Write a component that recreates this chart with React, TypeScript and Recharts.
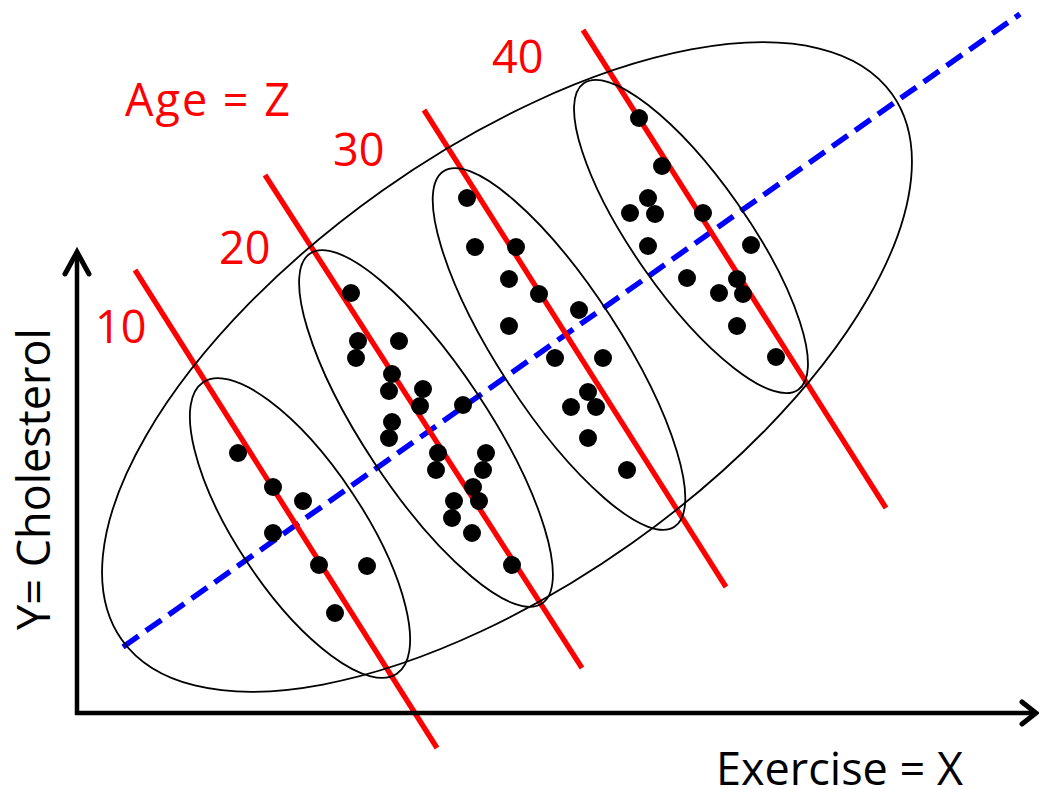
import React from 'react';
import {
  ScatterChart,
  Scatter,
  XAxis,
  YAxis,
  ReferenceLine,
  ReferenceDot,
} from 'recharts';

const CHART_W = 1039;
const CHART_H = 789;
const X_DOMAIN: [number, number] = [-7.7, 96.2];
const Y_DOMAIN: [number, number] = [-7.6, 71.3];
// both axes share the same pixels-per-unit so ellipse radii stay in data units
const PX_PER_UNIT = CHART_W / (X_DOMAIN[1] - X_DOMAIN[0]);

const FONT = '"Open Sans", "DejaVu Sans", sans-serif';
const RED = '#ff0000';
const BLUE = '#0000ff';

// exercise (x) vs cholesterol (y), one array per age group
const age10 = [
  { x: 16.1, y: 26.0 }, { x: 19.6, y: 22.6 }, { x: 22.6, y: 21.2 },
  { x: 19.6, y: 18.0 }, { x: 24.2, y: 14.8 }, { x: 29.0, y: 14.7 },
  { x: 25.8, y: 10.0 },
];

const age20 = [
  { x: 27.4, y: 42.0 }, { x: 28.1, y: 37.2 }, { x: 27.9, y: 35.5 },
  { x: 32.2, y: 37.2 }, { x: 31.5, y: 33.9 }, { x: 31.2, y: 32.2 },
  { x: 34.6, y: 32.4 }, { x: 34.3, y: 30.7 }, { x: 38.6, y: 30.8 },
  { x: 31.5, y: 29.1 }, { x: 31.2, y: 27.5 }, { x: 36.1, y: 26.0 },
  { x: 35.9, y: 24.3 }, { x: 40.9, y: 26.0 }, { x: 40.6, y: 24.3 },
  { x: 39.6, y: 22.6 }, { x: 40.2, y: 21.2 }, { x: 37.7, y: 21.2 },
  { x: 37.5, y: 19.5 }, { x: 39.5, y: 18.0 }, { x: 43.5, y: 14.8 },
];

const age30 = [
  { x: 39.0, y: 51.5 }, { x: 39.8, y: 46.6 }, { x: 43.9, y: 46.6 },
  { x: 43.2, y: 43.4 }, { x: 46.2, y: 41.9 }, { x: 50.2, y: 40.3 },
  { x: 43.2, y: 38.7 }, { x: 47.8, y: 35.5 }, { x: 52.6, y: 35.5 },
  { x: 51.1, y: 32.1 }, { x: 49.4, y: 30.6 }, { x: 51.9, y: 30.6 },
  { x: 51.1, y: 27.5 }, { x: 55.0, y: 24.3 },
];

const age40 = [
  { x: 56.2, y: 59.5 }, { x: 58.5, y: 54.7 }, { x: 57.1, y: 51.5 },
  { x: 55.3, y: 50.0 }, { x: 57.8, y: 49.9 }, { x: 62.6, y: 50.0 },
  { x: 57.1, y: 46.7 }, { x: 67.4, y: 46.8 }, { x: 61.0, y: 43.5 },
  { x: 66.0, y: 43.4 }, { x: 64.2, y: 42.0 }, { x: 66.6, y: 41.9 },
  { x: 66.0, y: 38.7 }, { x: 69.9, y: 35.6 },
];

// group outlines: centre, semi-axes (data units) and tilt (degrees, clockwise)
const groupOutlines = [
  { x: 22.3, y: 18.5, rx: 17.5, ry: 6.3, tilt: 56.4 },
  { x: 34.9, y: 28.45, rx: 21.0, ry: 6.2, tilt: 56.5 },
  { x: 48.2, y: 36.4, rx: 21.2, ry: 6.1, tilt: 57 },
  { x: 61.4, y: 47.65, rx: 18.7, ry: 5.7, tilt: 55 },
];
const populationOutline = [{ x: 43.0, y: 34.6, rx: 47.2, ry: 21.6, tilt: -35.3 }];

// within-age trend lines
const ageLines = [
  { age: '10', from: { x: 5.8, y: 44.3 }, to: { x: 36.0, y: -3.5 } },
  { age: '20', from: { x: 18.8, y: 53.8 }, to: { x: 50.5, y: 4.5 } },
  { age: '30', from: { x: 34.7, y: 60.3 }, to: { x: 64.9, y: 12.6 } },
  { age: '40', from: { x: 50.6, y: 68.3 }, to: { x: 80.9, y: 20.5 } },
];
const ageLabelPos = [
  { x: 1.8, y: 37.0 },
  { x: 14.2, y: 44.9 },
  { x: 25.6, y: 54.7 },
  { x: 41.5, y: 64.0 },
];

// pooled trend ignoring age
const overallTrend = { from: { x: 4.6, y: 6.6 }, to: { x: 94.3, y: 69.9 } };

const xArrow = { from: { x: -0.2, y: 0 }, to: { x: 95.9, y: 0 } };
const yArrow = { from: { x: 0, y: -0.2 }, to: { x: 0, y: 46.1 } };

const Dot = (p: any) => <circle cx={p.cx} cy={p.cy} r={9} fill="#000" />;

const Outline = (p: any) => {
  const { rx, ry, tilt } = p.payload;
  return (
    <ellipse
      cx={p.cx}
      cy={p.cy}
      rx={rx * PX_PER_UNIT}
      ry={ry * PX_PER_UNIT}
      transform={`rotate(${tilt} ${p.cx} ${p.cy})`}
      fill="none"
      stroke="#000"
      strokeWidth={1.8}
    />
  );
};

const arrowShape = (back: number, spread: number) => (p: any) => {
  const { x1, y1, x2, y2 } = p;
  const len = Math.hypot(x2 - x1, y2 - y1) || 1;
  const ux = (x2 - x1) / len;
  const uy = (y2 - y1) / len;
  const bx = x2 - ux * back;
  const by = y2 - uy * back;
  const nx = -uy;
  const ny = ux;
  return (
    <g>
      <line x1={x1} y1={y1} x2={x2 - ux * 2} y2={y2 - uy * 2} stroke="#000" strokeWidth={4.5} />
      <polyline
        points={`${bx + nx * spread},${by + ny * spread} ${x2},${y2} ${bx - nx * spread},${by - ny * spread}`}
        fill="none"
        stroke="#000"
        strokeWidth={5}
        strokeLinecap="round"
        strokeLinejoin="miter"
      />
    </g>
  );
};

const textShape = (text: string, color: string, rotate = false, anchor = 'start', spacing = 0) => (p: any) => (
  <text
    x={p.cx}
    y={p.cy}
    fill={color}
    fontFamily={FONT}
    fontSize={45}
    letterSpacing={spacing}
    textAnchor={anchor}
    transform={rotate ? `rotate(-90 ${p.cx} ${p.cy})` : undefined}
  >
    {text}
  </text>
);

export default function App() {
  return (
    <div style={{ position: 'absolute', left: 0, top: 0, background: '#fff' }}>
      <ScatterChart width={CHART_W} height={CHART_H} margin={{ top: 0, right: 0, bottom: 0, left: 0 }}>
        <XAxis type="number" dataKey="x" domain={X_DOMAIN} allowDataOverflow hide />
        <YAxis type="number" dataKey="y" domain={Y_DOMAIN} allowDataOverflow hide />

        <Scatter data={populationOutline} shape={Outline} isAnimationActive={false} />
        <Scatter data={groupOutlines} shape={Outline} isAnimationActive={false} />

        <Scatter data={age10} shape={Dot} isAnimationActive={false} />
        <Scatter data={age20} shape={Dot} isAnimationActive={false} />
        <Scatter data={age30} shape={Dot} isAnimationActive={false} />
        <Scatter data={age40} shape={Dot} isAnimationActive={false} />

        <ReferenceLine
          segment={[overallTrend.from, overallTrend.to]}
          stroke={BLUE}
          strokeWidth={5.5}
          strokeDasharray="19 9"
          ifOverflow="visible"
        />
        {ageLines.map((l) => (
          <ReferenceLine
            key={l.age}
            segment={[l.from, l.to]}
            stroke={RED}
            strokeWidth={5.3}
            ifOverflow="visible"
          />
        ))}

        <ReferenceLine segment={[xArrow.from, xArrow.to]} shape={arrowShape(14, 11)} ifOverflow="visible" />
        <ReferenceLine segment={[yArrow.from, yArrow.to]} shape={arrowShape(22, 12)} ifOverflow="visible" />

        {ageLines.map((l, i) => (
          <ReferenceDot
            key={`lbl-${l.age}`}
            x={ageLabelPos[i].x}
            y={ageLabelPos[i].y}
            r={0}
            shape={textShape(l.age, RED)}
            ifOverflow="visible"
          />
        ))}
        <ReferenceDot x={4.8} y={59.7} r={0} shape={textShape('Age = Z', RED, false, 'start', 2)} ifOverflow="visible" />
        <ReferenceDot x={-2.7} y={23.4} r={0} shape={textShape('Y= Cholesterol', '#000', true, 'middle')} ifOverflow="visible" />
        <ReferenceDot x={63.9} y={-7.2} r={0} shape={textShape('Exercise = X', '#000')} ifOverflow="visible" />
      </ScatterChart>
    </div>
  );
}
